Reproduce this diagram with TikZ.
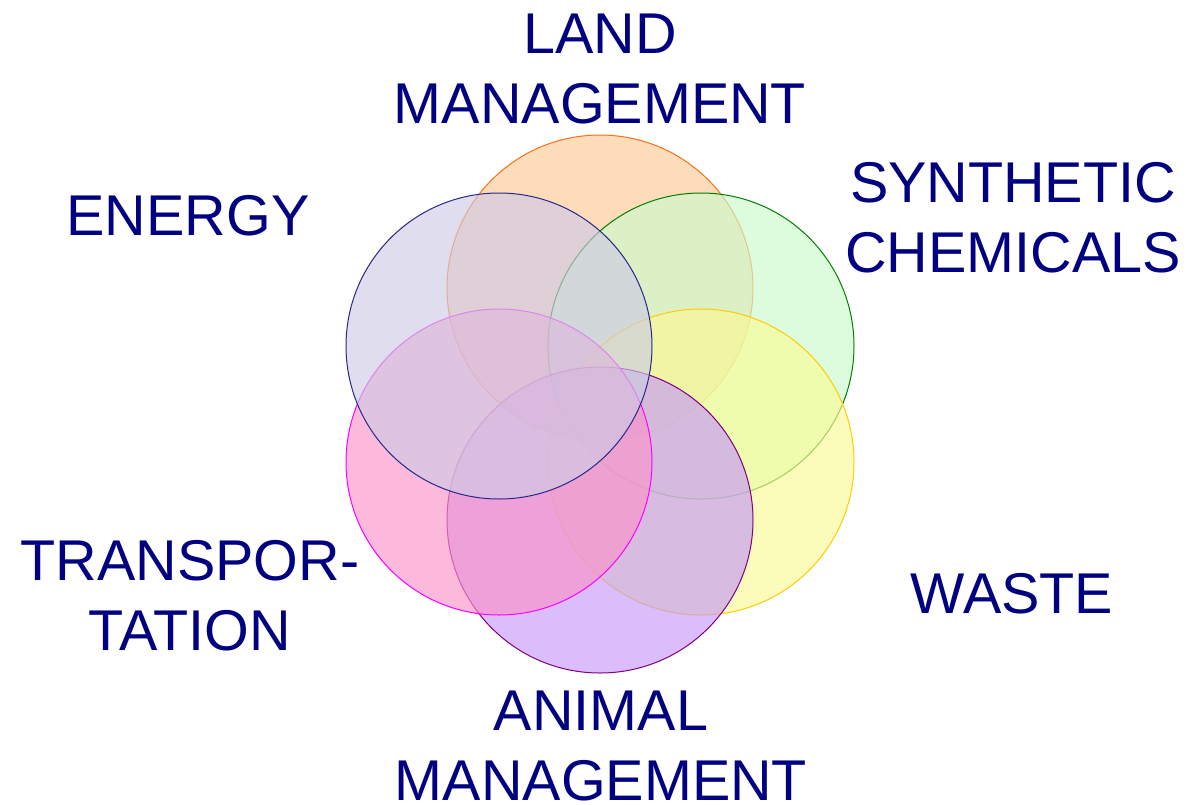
\documentclass[tikz,border=0pt]{standalone}
\usepackage{fontspec}
\setmainfont{Liberation Sans}
\usepackage{xcolor}
\usepackage{tikz}
\definecolor{lbl}{HTML}{000080}
% fill tints (used at 65% opacity) and outline colours
\definecolor{landfill}{RGB}{252,201,149}
\definecolor{landline}{RGB}{255,110,20}
\definecolor{chemfill}{RGB}{203,250,203}
\definecolor{chemline}{RGB}{0,128,0}
\definecolor{wastefill}{RGB}{250,250,149}
\definecolor{wasteline}{RGB}{255,204,0}
\definecolor{animfill}{RGB}{198,153,247}
\definecolor{animline}{RGB}{128,0,128}
\definecolor{tranfill}{RGB}{250,147,201}
\definecolor{tranline}{RGB}{255,0,255}
\definecolor{enerfill}{RGB}{206,203,229}
\definecolor{enerline}{RGB}{40,40,140}

\begin{document}
\begin{tikzpicture}[x=1pt,y=-1pt,font=\fontsize{57.5}{70}\selectfont]
    \tikzstyle{ring}=[circle,draw,line width=1pt,minimum size=306pt,inner sep=0pt,fill opacity=0.65]
    \tikzstyle{lab}=[text=lbl,align=center,anchor=base,inner sep=0pt]
    \useasboundingbox (0,0) rectangle (1187,804);
    % six overlapping rings, bottom one first
    \foreach \n/\x/\y in {land/600/288,chem/701/346,waste/701/462,anim/600/520,tran/499/462,ener/499/346}
      \node[ring,draw=\n line,fill=\n fill] (\n) at (\x,\y) {};
    % base anchor sits on the last line
    \node[lab] (tland)  at (600,123)  {LAND\\MANAGEMENT};
    \node[lab] (tchem)  at (1013,272) {SYNTHETIC\\CHEMICALS};
    \node[lab] (twaste) at (1012,613) {WASTE};
    \node[lab] (tanim)  at (601,800)  {ANIMAL\\MANAGEMENT};
    \node[lab] (ttran)  at (190,650)  {TRANSPOR-\\TATION};
    \node[lab] (tener)  at (188,235)  {ENERGY};
  \end{tikzpicture}
\end{document}
